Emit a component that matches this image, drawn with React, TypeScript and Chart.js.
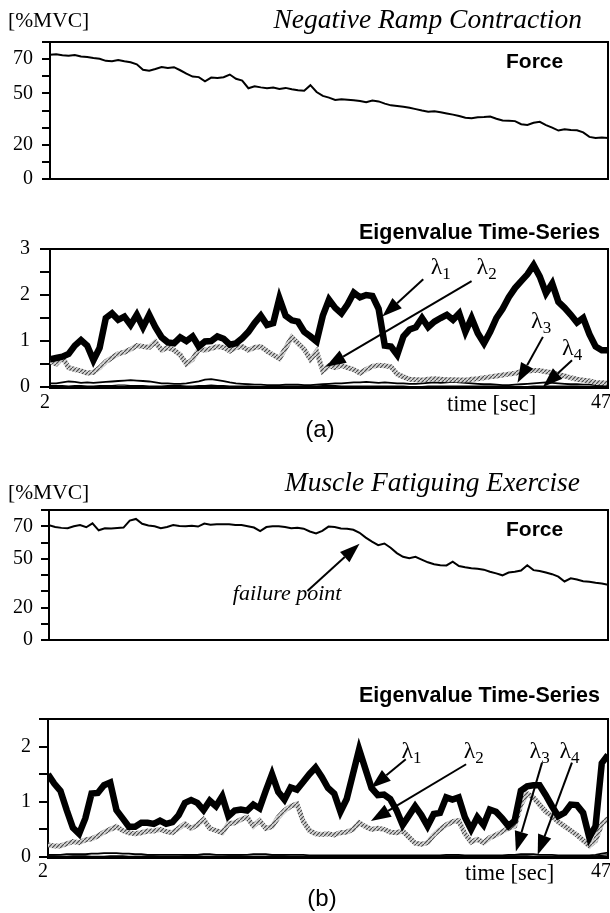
import React, { useEffect, useRef } from 'react';
import { Chart, registerables } from 'chart.js';

Chart.register(...registerables);

// ---------------- data ----------------
const TIME = [
  2, 2.5, 3, 3.5, 4, 4.5, 5, 5.5, 6, 6.5,
  7, 7.5, 8, 8.5, 9, 9.5, 10, 10.5, 11, 11.5,
  12, 12.5, 13, 13.5, 14, 14.5, 15, 15.5, 16, 16.5,
  17, 17.5, 18, 18.5, 19, 19.5, 20, 20.5, 21, 21.5,
  22, 22.5, 23, 23.5, 24, 24.5, 25, 25.5, 26, 26.5,
  27, 27.5, 28, 28.5, 29, 29.5, 30, 30.5, 31, 31.5,
  32, 32.5, 33, 33.5, 34, 34.5, 35, 35.5, 36, 36.5,
  37, 37.5, 38, 38.5, 39, 39.5, 40, 40.5, 41, 41.5,
  42, 42.5, 43, 43.5, 44, 44.5, 45, 45.5, 46, 46.5,
  47,
];

const FORCE_RAMP = [
  72.5, 72.8, 72.3, 72.0, 72.4, 71.5, 71.2, 70.6, 70.2, 69.0,
  68.8, 69.5, 68.7, 68.2, 67.0, 63.8, 63.2, 64.2, 65.4, 64.8,
  65.3, 63.5, 61.5, 59.8, 59.5, 57.0, 59.2, 59.0, 59.4, 61.0,
  58.5, 57.5, 53.0, 54.2, 53.5, 53.0, 53.4, 52.6, 53.2, 52.4,
  51.8, 51.5, 54.8, 50.8, 48.5, 47.5, 46.2, 46.5, 46.3, 46.0,
  45.5, 44.8, 45.8, 45.3, 44.0, 43.0, 42.6, 42.2, 41.6, 40.8,
  40.0, 39.3, 39.6, 39.0, 38.3, 37.6, 36.8, 35.8, 35.5, 36.0,
  36.2, 36.5, 35.2, 34.2, 34.0, 33.8, 32.0, 31.6, 32.8, 33.4,
  31.5, 30.0, 28.3, 29.0, 28.6, 28.4, 27.2, 24.6, 24.0, 24.2,
  24.0,
];

const L1_RAMP = [
  0.6, 0.63, 0.66, 0.72, 0.9, 1.02, 0.9, 0.58, 0.85, 1.5,
  1.6, 1.46, 1.53, 1.35, 1.57, 1.3, 1.57, 1.3, 1.08, 0.97,
  0.95, 1.08, 1.0, 1.1, 0.88, 0.99, 1.0, 1.1, 1.05, 0.92,
  0.95, 1.06, 1.2, 1.39, 1.55, 1.35, 1.39, 1.93, 1.55, 1.45,
  1.42, 1.2, 1.1, 0.99, 1.55, 1.9, 1.72, 1.6, 1.8, 2.05,
  1.95, 2.0, 1.98, 1.7, 0.9, 0.88, 0.7, 1.1, 1.25, 1.3,
  1.5, 1.3, 1.42, 1.5, 1.57, 1.46, 1.6, 1.2, 1.5, 1.17,
  0.95, 1.2, 1.5, 1.7, 1.95, 2.15, 2.3, 2.45, 2.65, 2.4,
  2.04, 2.25, 1.85, 1.72, 1.57, 1.4, 1.5, 1.15, 0.88, 0.8,
  0.8,
];

const L2_RAMP = [
  0.56, 0.5, 0.64, 0.42, 0.38, 0.35, 0.3, 0.32, 0.42, 0.55,
  0.64, 0.72, 0.76, 0.82, 0.9, 0.88, 0.86, 0.98, 0.8, 0.86,
  0.8, 0.7, 0.5, 0.6, 0.82, 0.8, 0.84, 0.88, 0.86, 0.78,
  0.86, 0.88, 0.8, 0.86, 0.88, 0.78, 0.7, 0.62, 0.85, 1.08,
  0.95, 0.82, 0.6, 0.77, 0.35, 0.46, 0.42, 0.47, 0.42, 0.38,
  0.3, 0.38, 0.45, 0.47, 0.46, 0.44, 0.28, 0.22, 0.17, 0.16,
  0.15, 0.17, 0.18, 0.17, 0.16, 0.16, 0.15, 0.15, 0.17, 0.18,
  0.2, 0.22, 0.24, 0.26, 0.28, 0.3, 0.33, 0.35, 0.36, 0.36,
  0.33, 0.31, 0.27, 0.24, 0.2, 0.17, 0.15, 0.13, 0.1, 0.09,
  0.08,
];

const L3_RAMP = [
  0.08, 0.08, 0.1, 0.12, 0.11, 0.09, 0.1, 0.09, 0.1, 0.11,
  0.12, 0.13, 0.14, 0.15, 0.14, 0.13, 0.12, 0.1, 0.08, 0.08,
  0.07, 0.07, 0.08, 0.1, 0.12, 0.16, 0.17, 0.15, 0.13, 0.1,
  0.08, 0.07, 0.06, 0.05, 0.05, 0.04, 0.04, 0.04, 0.05, 0.05,
  0.05, 0.04, 0.04, 0.05, 0.06, 0.07, 0.08, 0.08, 0.09, 0.1,
  0.1, 0.11, 0.1, 0.09, 0.1, 0.09, 0.08, 0.08, 0.07, 0.07,
  0.08, 0.09, 0.1, 0.09, 0.1, 0.11, 0.1, 0.09, 0.08, 0.07,
  0.06, 0.06, 0.05, 0.04, 0.04, 0.05, 0.06, 0.07, 0.08, 0.09,
  0.1, 0.09, 0.08, 0.07, 0.06, 0.06, 0.05, 0.05, 0.04, 0.04,
  0.04,
];

const L4_RAMP = [
  0.03, 0.03, 0.03, 0.02, 0.03, 0.03, 0.02, 0.02, 0.03, 0.03,
  0.03, 0.04, 0.04, 0.03, 0.03, 0.03, 0.02, 0.02, 0.02, 0.03,
  0.03, 0.03, 0.02, 0.02, 0.03, 0.03, 0.04, 0.03, 0.03, 0.02,
  0.02, 0.02, 0.02, 0.01, 0.01, 0.01, 0.02, 0.02, 0.02, 0.02,
  0.02, 0.02, 0.02, 0.02, 0.03, 0.03, 0.03, 0.02, 0.02, 0.02,
  0.02, 0.02, 0.02, 0.02, 0.02, 0.02, 0.02, 0.02, 0.01, 0.01,
  0.01, 0.02, 0.02, 0.02, 0.02, 0.02, 0.02, 0.02, 0.02, 0.02,
  0.02, 0.02, 0.02, 0.02, 0.02, 0.01, 0.01, 0.01, 0.02, 0.02,
  0.02, 0.02, 0.02, 0.02, 0.02, 0.02, 0.01, 0.01, 0.01, 0.01,
  0.01,
];

const FORCE_FATIGUE = [
  70.7, 69.6, 69.0, 68.8, 70.0, 70.8, 69.4, 71.8, 67.5, 68.8,
  68.6, 68.9, 69.2, 73.5, 74.5, 71.5, 70.5, 70.0, 68.8, 69.5,
  70.7, 70.2, 70.0, 70.3, 69.8, 71.7, 71.0, 71.3, 71.2, 71.3,
  70.8, 70.7, 70.0, 69.2, 67.0, 69.5, 70.0, 70.0, 69.5, 68.8,
  69.0, 68.5, 66.8, 65.6, 67.2, 69.8, 69.5, 68.6, 68.5, 67.8,
  66.0, 63.0, 60.5, 58.4, 59.4, 56.8, 53.5, 51.2, 50.3, 51.2,
  49.5, 47.8, 46.6, 46.0, 45.9, 48.2, 45.5, 44.8, 44.2, 43.8,
  43.3, 42.0, 41.0, 39.8, 41.5, 42.0, 42.8, 46.0, 43.0, 42.5,
  41.5, 40.5, 39.0, 36.0, 38.0, 37.2, 36.2, 35.9, 35.2, 34.8,
  34.0,
];

const L1_FATIGUE = [
  1.5, 1.33, 1.2, 0.85, 0.53, 0.42, 0.7, 1.15, 1.16, 1.3,
  1.35, 0.85, 0.7, 0.55, 0.55, 0.62, 0.62, 0.6, 0.66, 0.6,
  0.63, 0.76, 0.98, 1.03, 0.98, 0.85, 1.02, 0.92, 1.1, 0.74,
  0.84, 0.86, 0.84, 0.95, 0.88, 1.2, 1.5, 1.18, 1.04, 1.26,
  1.22, 1.36, 1.5, 1.62, 1.45, 1.25, 1.15, 0.82, 1.05, 1.5,
  1.95, 1.6, 1.25, 1.12, 1.13, 1.05, 0.85, 0.58, 0.75, 0.92,
  0.76, 0.56, 0.78, 0.8, 1.08, 1.04, 1.08, 0.72, 0.5, 0.72,
  0.58, 0.86, 0.82, 0.7, 0.56, 0.66, 1.2, 1.28, 1.3, 1.3,
  1.12, 0.92, 0.74, 0.8, 0.95, 0.94, 0.8, 0.35, 0.56, 1.7,
  1.85,
];

const L2_FATIGUE = [
  0.22, 0.2, 0.2, 0.24, 0.28, 0.26, 0.31, 0.33, 0.38, 0.45,
  0.5, 0.55, 0.48, 0.44, 0.42, 0.44, 0.47, 0.47, 0.5, 0.46,
  0.44, 0.52, 0.6, 0.52, 0.58, 0.68, 0.52, 0.48, 0.44, 0.6,
  0.62, 0.68, 0.72, 0.56, 0.66, 0.52, 0.55, 0.72, 0.84, 0.92,
  0.96, 0.65, 0.48, 0.42, 0.41, 0.42, 0.4, 0.44, 0.45, 0.5,
  0.62, 0.55, 0.5, 0.52, 0.5, 0.45, 0.44, 0.47, 0.36, 0.25,
  0.23, 0.26, 0.4, 0.5, 0.58, 0.64, 0.66, 0.42, 0.27, 0.32,
  0.26, 0.35, 0.4, 0.46, 0.52, 0.56, 0.95, 1.15, 1.08, 0.95,
  0.82, 0.74, 0.64, 0.56, 0.48, 0.4, 0.3, 0.2, 0.3, 0.6,
  0.7,
];

const L3_FATIGUE = [
  0.04, 0.04, 0.04, 0.05, 0.05, 0.05, 0.05, 0.06, 0.06, 0.07,
  0.07, 0.07, 0.06, 0.06, 0.05, 0.05, 0.04, 0.04, 0.04, 0.04,
  0.04, 0.04, 0.04, 0.04, 0.04, 0.05, 0.05, 0.04, 0.04, 0.04,
  0.04, 0.04, 0.04, 0.05, 0.05, 0.05, 0.04, 0.04, 0.04, 0.04,
  0.04, 0.04, 0.03, 0.03, 0.03, 0.03, 0.03, 0.03, 0.03, 0.03,
  0.03, 0.03, 0.03, 0.03, 0.03, 0.03, 0.03, 0.03, 0.03, 0.03,
  0.03, 0.03, 0.03, 0.03, 0.04, 0.04, 0.04, 0.03, 0.03, 0.03,
  0.03, 0.03, 0.03, 0.03, 0.04, 0.04, 0.05, 0.05, 0.05, 0.04,
  0.04, 0.04, 0.03, 0.03, 0.03, 0.03, 0.03, 0.03, 0.04, 0.06,
  0.08,
];

const L4_FATIGUE = [
  0.02, 0.02, 0.01, 0.01, 0.02, 0.02, 0.02, 0.01, 0.01, 0.01,
  0.02, 0.02, 0.02, 0.01, 0.01, 0.01, 0.02, 0.02, 0.01, 0.01,
  0.01, 0.01, 0.02, 0.02, 0.02, 0.01, 0.01, 0.01, 0.01, 0.02,
  0.02, 0.02, 0.01, 0.01, 0.01, 0.01, 0.02, 0.02, 0.02, 0.01,
  0.01, 0.01, 0.01, 0.01, 0.02, 0.02, 0.01, 0.01, 0.01, 0.01,
  0.01, 0.01, 0.01, 0.02, 0.02, 0.02, 0.01, 0.01, 0.01, 0.01,
  0.01, 0.01, 0.01, 0.01, 0.02, 0.02, 0.02, 0.01, 0.01, 0.01,
  0.01, 0.01, 0.01, 0.02, 0.02, 0.02, 0.02, 0.02, 0.01, 0.01,
  0.01, 0.01, 0.01, 0.01, 0.01, 0.01, 0.01, 0.01, 0.02, 0.03,
  0.04,
];

const FORCE_TICK_LABELS = [0, 20, 50, 70];
const EIG_TICK_LABELS = [0, 1, 2, 3];
const X_TICK_LABELS = [2, 47];

// annotation anchors in data units [time, value]
const LAMBDA_RAMP = [
  { sub: '1', text: [32.7, 2.45], from: [32.1, 2.34], to: [28.8, 1.53] },
  { sub: '2', text: [36.4, 2.45], from: [36.0, 2.3], to: [24.25, 0.44] },
  { sub: '3', text: [40.8, 1.28], from: [41.75, 1.09], to: [39.7, 0.09] },
  { sub: '4', text: [43.3, 0.69], from: [44.1, 0.58], to: [41.75, 0.0] },
];
const LAMBDA_FATIGUE = [
  { sub: '1', text: [30.4, 1.8], from: [30.75, 1.77], to: [27.95, 1.25] },
  { sub: '2', text: [35.4, 1.8], from: [35.6, 1.68], to: [27.95, 0.65] },
  { sub: '3', text: [40.7, 1.8], from: [41.7, 1.71], to: [39.6, 0.1] },
  { sub: '4', text: [43.1, 1.8], from: [44.1, 1.71], to: [41.35, 0.04] },
];
const FAILURE = { text: [16.8, 24.5], from: [22.8, 30.2], to: [27.0, 59.3] };

// ---------------- helpers ----------------
const SERIF = '"Liberation Serif", "Times New Roman", serif';
const SANS = '"Liberation Sans", Arial, sans-serif';

function hatchPattern(): CanvasPattern | string {
  const c = document.createElement('canvas');
  c.width = 4;
  c.height = 4;
  const g = c.getContext('2d');
  if (!g) return '#999';
  g.fillStyle = '#d4d4d4';
  g.fillRect(0, 0, 4, 4);
  g.strokeStyle = '#4a4a4a';
  g.lineWidth = 1.2;
  g.beginPath();
  g.moveTo(0, 4);
  g.lineTo(4, 0);
  g.stroke();
  const p = g.createPattern(c, 'repeat');
  return p || '#999';
}

function drawArrow(ctx: CanvasRenderingContext2D, x1: number, y1: number, x2: number, y2: number) {
  const head = 20;
  const hw = 7;
  const ang = Math.atan2(y2 - y1, x2 - x1);
  const bx = x2 - head * Math.cos(ang);
  const by = y2 - head * Math.sin(ang);
  ctx.save();
  ctx.strokeStyle = '#000';
  ctx.fillStyle = '#000';
  ctx.lineWidth = 2;
  ctx.beginPath();
  ctx.moveTo(x1, y1);
  ctx.lineTo(bx, by);
  ctx.stroke();
  ctx.beginPath();
  ctx.moveTo(x2, y2);
  ctx.lineTo(bx + hw * Math.sin(ang), by - hw * Math.cos(ang));
  ctx.lineTo(bx - hw * Math.sin(ang), by + hw * Math.cos(ang));
  ctx.closePath();
  ctx.fill();
  ctx.restore();
}

type Txt = { text: string; x: number; y: number; font: string; align?: CanvasTextAlign };

type PanelCfg = {
  top: number;
  height: number;
  padTop: number;
  axisWidth: number;
  xAxisHeight: number;
  yMax: number;
  yStep: number;
  yLabels: number[];
  tickLength: number;
  tickPadding: number;
  bottomWidth: number;
  datasets: any[];
  texts: Txt[];
  xLabels?: { y: number };
  lambdas?: { sub: string; text: number[]; from: number[]; to: number[] }[];
  failure?: { text: number[]; from: number[]; to: number[] };
};

function Panel({ cfg }: { cfg: PanelCfg }) {
  const ref = useRef<HTMLCanvasElement | null>(null);
  useEffect(() => {
    if (!ref.current) return;
    const extras = {
      id: 'extras',
      afterDraw(chart: any) {
        const ctx: CanvasRenderingContext2D = chart.ctx;
        const a = chart.chartArea;
        const xs = chart.scales.x;
        const ys = chart.scales.y;
        ctx.save();
        // top & right frame
        ctx.strokeStyle = '#000';
        ctx.lineWidth = 2;
        ctx.beginPath();
        ctx.moveTo(a.left - 1, a.top);
        ctx.lineTo(a.right, a.top);
        ctx.lineTo(a.right, a.bottom);
        ctx.stroke();
        ctx.fillStyle = '#000';
        ctx.textBaseline = 'alphabetic';
        for (const t of cfg.texts) {
          ctx.font = t.font;
          ctx.textAlign = t.align || 'left';
          ctx.fillText(t.text, t.x, t.y - cfg.top);
        }
        if (cfg.xLabels) {
          ctx.font = `20px ${SERIF}`;
          X_TICK_LABELS.forEach((v, i) => {
            const px = xs.getPixelForValue(v);
            if (i === 0) {
              ctx.textAlign = 'center';
              ctx.fillText(String(v), px - 5, cfg.xLabels!.y - cfg.top);
            } else {
              ctx.textAlign = 'right';
              ctx.fillText(String(v), px + 3, cfg.xLabels!.y - cfg.top);
            }
          });
        }
        if (cfg.lambdas) {
          for (const l of cfg.lambdas) {
            const tx = xs.getPixelForValue(l.text[0]);
            const ty = ys.getPixelForValue(l.text[1]);
            ctx.textAlign = 'left';
            ctx.font = `24px ${SERIF}`;
            ctx.fillText('λ', tx, ty);
            const w = ctx.measureText('λ').width;
            ctx.font = `17px ${SERIF}`;
            ctx.fillText(l.sub, tx + w, ty + 5);
            drawArrow(
              ctx,
              xs.getPixelForValue(l.from[0]),
              ys.getPixelForValue(l.from[1]),
              xs.getPixelForValue(l.to[0]),
              ys.getPixelForValue(l.to[1])
            );
          }
        }
        if (cfg.failure) {
          const f = cfg.failure;
          ctx.textAlign = 'left';
          ctx.font = `italic 22px ${SERIF}`;
          ctx.fillText('failure point', xs.getPixelForValue(f.text[0]), ys.getPixelForValue(f.text[1]));
          drawArrow(
            ctx,
            xs.getPixelForValue(f.from[0]),
            ys.getPixelForValue(f.from[1]),
            xs.getPixelForValue(f.to[0]),
            ys.getPixelForValue(f.to[1])
          );
        }
        ctx.restore();
      },
    };
    const chart = new Chart(ref.current, {
      type: 'line',
      data: { labels: TIME, datasets: cfg.datasets },
      options: {
        animation: false,
        responsive: false,
        events: [],
        layout: { padding: { top: cfg.padTop, right: 2, left: 0, bottom: 0 } },
        plugins: { legend: { display: false }, tooltip: { enabled: false } },
        elements: { point: { radius: 0 }, line: { tension: 0 } },
        scales: {
          x: {
            type: 'linear',
            min: 2,
            max: 47,
            ticks: { display: false },
            grid: { display: false, drawTicks: false },
            border: { display: true, color: '#000', width: cfg.bottomWidth },
            afterFit: (s: any) => {
              s.height = cfg.xAxisHeight;
            },
          },
          y: {
            min: 0,
            max: cfg.yMax,
            ticks: {
              stepSize: cfg.yStep,
              autoSkip: false,
              color: '#000',
              padding: cfg.tickPadding,
              font: { family: SERIF, size: 20 },
              callback: (v: any) => (cfg.yLabels.includes(Number(v)) ? String(v) : ''),
            },
            grid: {
              display: true,
              drawOnChartArea: false,
              drawTicks: true,
              tickLength: cfg.tickLength,
              color: '#000',
              lineWidth: 2,
            },
            border: { display: true, color: '#000', width: 2 },
            afterFit: (s: any) => {
              s.width = cfg.axisWidth;
            },
          },
        },
      } as any,
      plugins: [extras],
    });
    return () => chart.destroy();
  }, [cfg]);
  return (
    <canvas
      ref={ref}
      width={610}
      height={cfg.height}
      style={{ position: 'absolute', left: 0, top: cfg.top, width: 610, height: cfg.height }}
    />
  );
}

function forceSet(values: number[]) {
  return [
    {
      data: values,
      borderColor: '#000',
      borderWidth: 2,
      fill: false,
    },
  ];
}

function eigenSets(l1: number[], l2: number[], l3: number[], l4: number[], hatch: any) {
  return [
    { data: l1, borderColor: '#000', borderWidth: 6.5, fill: false, borderJoinStyle: 'miter' },
    { data: l2, borderColor: hatch, borderWidth: 5, fill: false },
    { data: l3, borderColor: '#000', borderWidth: 1.8, fill: false },
    { data: l4, borderColor: '#000', borderWidth: 1.2, fill: false },
  ];
}

export default function App() {
  const hatch = React.useMemo(() => hatchPattern(), []);
  const panels: PanelCfg[] = React.useMemo(
    () => [
      {
        top: 0,
        height: 200,
        padTop: 42,
        axisWidth: 50,
        xAxisHeight: 21,
        yMax: 80,
        yStep: 10,
        yLabels: FORCE_TICK_LABELS,
        tickLength: 8,
        tickPadding: 9,
        bottomWidth: 2,
        datasets: forceSet(FORCE_RAMP),
        texts: [
          { text: '[%MVC]', x: 8, y: 27, font: `21.5px ${SERIF}` },
          { text: 'Negative Ramp Contraction', x: 582, y: 28, font: `italic 27.5px ${SERIF}`, align: 'right' },
          { text: 'Force', x: 506, y: 68, font: `bold 21px ${SANS}` },
        ],
      },
      {
        top: 200,
        height: 250,
        padTop: 49,
        axisWidth: 50,
        xAxisHeight: 63,
        yMax: 3,
        yStep: 0.5,
        yLabels: EIG_TICK_LABELS,
        tickLength: 10,
        tickPadding: 10,
        bottomWidth: 3,
        datasets: eigenSets(L1_RAMP, L2_RAMP, L3_RAMP, L4_RAMP, hatch),
        texts: [
          { text: 'Eigenvalue Time-Series', x: 600, y: 239, font: `bold 21.5px ${SANS}`, align: 'right' },
          { text: 'time [sec]', x: 447, y: 411, font: `22.5px ${SERIF}` },
          { text: '(a)', x: 320, y: 437, font: `24px ${SANS}`, align: 'center' },
        ],
        xLabels: { y: 408 },
        lambdas: LAMBDA_RAMP,
      },
      {
        top: 450,
        height: 210,
        padTop: 60,
        axisWidth: 49,
        xAxisHeight: 11,
        yMax: 80,
        yStep: 10,
        yLabels: FORCE_TICK_LABELS,
        tickLength: 8,
        tickPadding: 8,
        bottomWidth: 2,
        datasets: forceSet(FORCE_FATIGUE),
        texts: [
          { text: '[%MVC]', x: 8, y: 499, font: `21.5px ${SERIF}` },
          { text: 'Muscle Fatiguing Exercise', x: 580, y: 491, font: `italic 27.5px ${SERIF}`, align: 'right' },
          { text: 'Force', x: 506, y: 536, font: `bold 21px ${SANS}` },
        ],
        failure: FAILURE,
      },
      {
        top: 660,
        height: 253,
        padTop: 59,
        axisWidth: 48,
        xAxisHeight: 56,
        yMax: 2.5,
        yStep: 0.5,
        yLabels: EIG_TICK_LABELS,
        tickLength: 9,
        tickPadding: 8,
        bottomWidth: 3,
        datasets: eigenSets(L1_FATIGUE, L2_FATIGUE, L3_FATIGUE, L4_FATIGUE, hatch),
        texts: [
          { text: 'Eigenvalue Time-Series', x: 600, y: 702, font: `bold 21.5px ${SANS}`, align: 'right' },
          { text: 'time [sec]', x: 465, y: 880, font: `22.5px ${SERIF}` },
          { text: '(b)', x: 322, y: 906, font: `24px ${SANS}`, align: 'center' },
        ],
        xLabels: { y: 877 },
        lambdas: LAMBDA_FATIGUE,
      },
    ],
    [hatch]
  );
  return (
    <div style={{ position: 'absolute', left: 0, top: 0, width: 610, height: 913, background: '#fff' }}>
      {panels.map((p, i) => (
        <Panel key={i} cfg={p} />
      ))}
    </div>
  );
}
